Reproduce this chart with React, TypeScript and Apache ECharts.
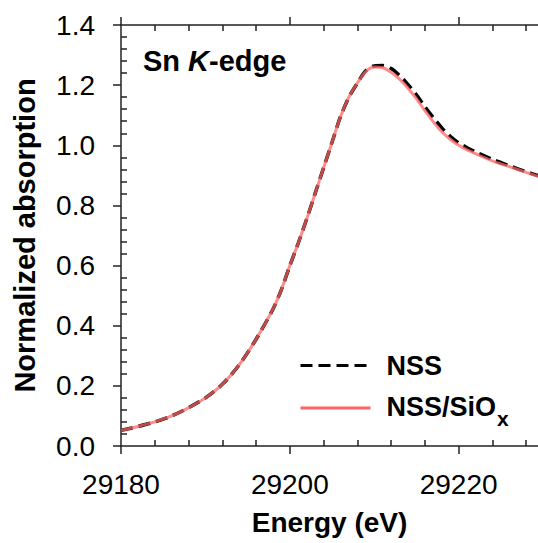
import React, { useEffect, useRef } from "react";
import * as echarts from "echarts";

const energy = [29180, 29182, 29184, 29186, 29188, 29190, 29192, 29194, 29196, 29198, 29199, 29200, 29201, 29202, 29203, 29204, 29205, 29206, 29207, 29208, 29209, 29210, 29211, 29212, 29213, 29214, 29215, 29216, 29217, 29218, 29219, 29220, 29221, 29222, 29224, 29226, 29228, 29229.5];
const nssSiOx = [0.052, 0.065, 0.080, 0.100, 0.127, 0.160, 0.205, 0.270, 0.355, 0.455, 0.520, 0.600, 0.675, 0.755, 0.840, 0.925, 1.010, 1.095, 1.160, 1.207, 1.245, 1.260, 1.258, 1.243, 1.220, 1.190, 1.155, 1.115, 1.078, 1.045, 1.020, 1.000, 0.985, 0.972, 0.948, 0.929, 0.910, 0.896];
const nss = [0.052, 0.065, 0.080, 0.100, 0.127, 0.160, 0.205, 0.270, 0.355, 0.455, 0.520, 0.600, 0.675, 0.755, 0.840, 0.925, 1.010, 1.095, 1.160, 1.207, 1.248, 1.264, 1.265, 1.255, 1.232, 1.202, 1.168, 1.128, 1.092, 1.058, 1.030, 1.008, 0.992, 0.978, 0.953, 0.932, 0.912, 0.898];

const xMajor = [29180, 29200, 29220];
const xMinor = [29184, 29188, 29192, 29196, 29204, 29208, 29212, 29216, 29224, 29228];
const yMajor = [0, 0.2, 0.4, 0.6, 0.8, 1.0, 1.2, 1.4];
const yMinor: number[] = [];
for (let i = 0; i < 7; i++) for (let j = 1; j < 5; j++) yMinor.push(Math.round((i * 0.2 + j * 0.04) * 100) / 100);

const FONT = "Liberation Sans";
const X_MIN = 29180;
const X_MAX = 29229.4;

export default function App() {
  const ref = useRef<HTMLDivElement>(null);
  useEffect(() => {
    document.body.style.margin = "0";
    const chart = echarts.init(ref.current!, undefined, { renderer: "svg" });
    const axisLine = { show: true, lineStyle: { color: "#222", width: 1.5 } };
    const tickMajor = { show: true, inside: false, length: 8, lineStyle: { color: "#222", width: 1.5 } };
    const tickMinor = { show: true, inside: true, length: 6, lineStyle: { color: "#222", width: 1.5 } };
    const xBase = { type: "value", min: X_MIN, max: X_MAX, interval: 20, splitLine: { show: false } };
    const yBase = { type: "value", min: 0, max: 1.4, interval: 0.2, splitLine: { show: false } };
    const legendBase = {
      orient: "vertical", left: 294, itemWidth: 70, itemHeight: 14,
      itemStyle: { opacity: 0 }, lineStyle: { width: 3, opacity: 1 },
    };
    chart.setOption({
      animation: false,
      grid: { left: 121, right: 0, top: 25, bottom: 97 },
      xAxis: [
        {
          ...xBase, position: "bottom", axisLine, axisTick: { ...tickMajor, customValues: xMajor },
          axisLabel: { customValues: xMajor, formatter: (v: number) => String(v), fontFamily: FONT, fontSize: 28, color: "#000", margin: 24 },
          name: "Energy (eV)", nameLocation: "middle", nameGap: 62,
          nameTextStyle: { fontFamily: FONT, fontSize: 28, fontWeight: "bold", color: "#000" },
        },
        { ...xBase, position: "bottom", axisLine: { show: false }, axisTick: { ...tickMinor, customValues: xMinor }, axisLabel: { show: false } },
        { ...xBase, position: "top", axisLine, axisTick: { ...tickMajor, customValues: xMajor }, axisLabel: { show: false } },
        { ...xBase, position: "top", axisLine: { show: false }, axisTick: { ...tickMinor, customValues: xMinor }, axisLabel: { show: false } },
      ],
      yAxis: [
        {
          ...yBase, position: "left", axisLine, axisTick: { ...tickMajor, customValues: yMajor },
          axisLabel: { customValues: yMajor, formatter: (v: number) => v.toFixed(1), fontFamily: FONT, fontSize: 28, color: "#000", margin: 26 },
          name: "Normalized absorption", nameLocation: "middle", nameGap: 82,
          nameTextStyle: { fontFamily: FONT, fontSize: 29, fontWeight: "bold", color: "#000" },
        },
        { ...yBase, position: "left", axisLine: { show: false }, axisTick: { ...tickMinor, customValues: yMinor }, axisLabel: { show: false } },
      ],
      legend: [
        {
          ...legendBase, data: ["NSS"], top: 347,
          formatter: () => "{n|NSS}",
          textStyle: { rich: { n: { fontFamily: FONT, fontSize: 27, fontWeight: "bold", color: "#000", lineHeight: 30, padding: [0, 0, 0, 11] } } },
        },
        {
          ...legendBase, data: ["NSS/SiOx"], top: 388,
          formatter: () => "{n|NSS/SiO}{s|x}",
          textStyle: {
            rich: {
              n: { fontFamily: FONT, fontSize: 27, fontWeight: "bold", color: "#000", lineHeight: 30, verticalAlign: "top", padding: [0, 0, 0, 11] },
              s: { fontFamily: FONT, fontSize: 21, fontWeight: "bold", color: "#000", lineHeight: 21, verticalAlign: "top", padding: [15, 0, 0, 1] },
            },
          },
        },
      ],
      graphic: [
        {
          type: "text", left: 143, top: 46,
          style: {
            text: "{b|Sn }{i|K}{b|-edge}",
            rich: {
              b: { fontFamily: FONT, fontSize: 29, fontWeight: "bold", fill: "#000" },
              i: { fontFamily: FONT, fontSize: 29, fontWeight: "bold", fontStyle: "italic", fill: "#000" },
            },
          },
        },
      ],
      series: [
        {
          name: "NSS", type: "line", xAxisIndex: 0, yAxisIndex: 0, symbol: "none", smooth: 0.3,
          data: energy.map((e, i) => [e, nss[i]]),
          lineStyle: { color: "#000", width: 3.5, type: [12, 6] }, itemStyle: { color: "#000" }, z: 2,
        },
        {
          name: "NSS/SiOx", type: "line", xAxisIndex: 0, yAxisIndex: 0, symbol: "none", smooth: 0.3,
          data: energy.map((e, i) => [e, nssSiOx[i]]),
          lineStyle: { color: "#ff6464", width: 3, opacity: 0.75 }, itemStyle: { color: "#ff6464" }, z: 3,
        },
      ],
    });
    return () => chart.dispose();
  }, []);
  return <div ref={ref} style={{ width: 538, height: 543 }} />;
}
